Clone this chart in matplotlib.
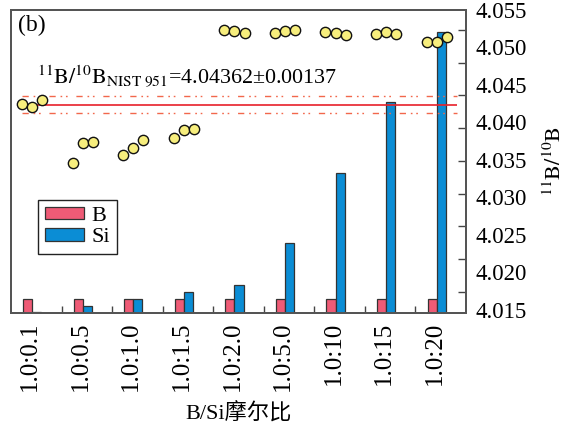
import numpy as np
import matplotlib
matplotlib.use('Agg')
import matplotlib.pyplot as plt
from matplotlib.ticker import FixedLocator

plt.rcParams['font.family'] = ['Liberation Serif', 'Noto Sans CJK SC']
plt.rcParams['mathtext.fontset'] = 'stix'

# B/Si molar ratio groups
ratios = ['1.0:0.1', '1.0:0.5', '1.0:1.0', '1.0:1.5', '1.0:2.0',
          '1.0:5.0', '1.0:10', '1.0:15', '1.0:20']
b_amount = [1.0, 1.0, 1.0, 1.0, 1.0, 1.0, 1.0, 1.0, 1.0]
si_amount = [0.1, 0.5, 1.0, 1.5, 2.0, 5.0, 10, 15, 20]

# measured 11B/10B, three replicates per group
rep1 = [4.04366, 4.03474, 4.03587, 4.03847, 4.05500, 4.05450, 4.05474, 4.05439, 4.05321]
rep2 = [4.04320, 4.03779, 4.03703, 4.03973, 4.05489, 4.05489, 4.05459, 4.05474, 4.05321]
rep3 = [4.04431, 4.03790, 4.03821, 4.03989, 4.05450, 4.05500, 4.05424, 4.05439, 4.05393]

nist_mean = 4.04362
nist_sd = 0.00137

ytick_vals = [4.055, 4.050, 4.045, 4.040, 4.035, 4.030, 4.025, 4.020, 4.015]

x = np.arange(len(ratios))
xc = x - 0.08
w = 0.18

fig = plt.figure(figsize=(5.7, 4.29), dpi=100)
ax = fig.add_axes([0.0193, 0.2704, 0.7982, 0.7063])

ax.bar(xc - w / 2, b_amount, w, color='#ef5b76', edgecolor='#333333', linewidth=0.9, label='B')
ax.bar(xc + w / 2, si_amount, w, color='#0b8dd5', edgecolor='#333333', linewidth=0.9, label='Si')
ax.set_ylim(0, 21.57)
ax.set_xlim(-0.5, len(ratios) - 0.5)
ax.set_yticks([])

ax.set_xticks(xc - 0.04)
ax.set_xticklabels(ratios, rotation=90, fontsize=18)
ax.tick_params(axis='x', which='major', length=0, pad=6)
ax.xaxis.set_minor_locator(FixedLocator(x[:-1] + 0.5))
ax.tick_params(axis='x', which='minor', direction='in', length=5, width=1, color='#444444')
ax.set_xlabel('B/Si摩尔比', fontsize=16, labelpad=9)

leg = ax.legend(loc='upper left', bbox_to_anchor=(0.06, 0.373), borderaxespad=0,
                fontsize=16, handlelength=1.75, handleheight=0.5, handletextpad=0.35,
                labelspacing=0.1, fancybox=False, framealpha=1, borderpad=0.3)
leg.get_frame().set_edgecolor('#222222')
leg.get_frame().set_linewidth(1.0)

# isotope ratio axis on the right
ax2 = ax.twinx()
ax2.set_ylim(4.01179, 4.05805)
ax2.set_xlim(-0.5, len(ratios) - 0.5)

ax2.scatter(xc - 0.2, rep1, s=55, color='#f7ee7d', edgecolor='#111111', linewidth=1.0, zorder=5)
ax2.scatter(xc, rep2, s=55, color='#f7ee7d', edgecolor='#111111', linewidth=1.0, zorder=5)
ax2.scatter(xc + 0.2, rep3, s=55, color='#f7ee7d', edgecolor='#111111', linewidth=1.0, zorder=5)

x0, x1 = -0.28, 8.33
ax2.hlines(nist_mean, x0, x1, color='#e8202a', linewidth=1.2, zorder=4)
for v in (nist_mean + nist_sd, nist_mean - nist_sd):
    ax2.hlines(v, x0, x1, color='#f2674c', linewidth=1.0,
               linestyle=(0, (4.5, 3.5, 1.2, 2.7, 1.2, 6.3)), zorder=4)

ax2.text(0.01, 4.04686,
         r'$^{11}\mathrm{B}/^{10}\mathrm{B}_{\mathrm{NIST\ 951}}$=4.04362±0.00137',
         fontsize=15.8, ha='left', va='baseline')

# tick marks at the true values, labels set slightly stretched
ax2.yaxis.set_minor_locator(FixedLocator(ytick_vals))
ax2.tick_params(axis='y', which='minor', direction='in', length=6, width=1, color='#444444')
label_pos = np.linspace(4.05805, 4.01225, len(ytick_vals))
ax2.set_yticks(label_pos)
ax2.set_yticklabels(['%.3f' % v for v in ytick_vals], fontsize=16.5)
ax2.tick_params(axis='y', which='major', length=0, pad=6.5)
ax2.set_ylabel(r'$^{11}\mathrm{B}/^{10}\mathrm{B}$', fontsize=16, rotation=90, labelpad=12)

for a in (ax, ax2):
    for s in a.spines.values():
        s.set_color('#555555')
        s.set_linewidth(1.4)

ax.text(0.015, 0.95, '(b)', transform=ax.transAxes, fontsize=17, ha='left', va='center')

fig.savefig('out.png', dpi=100)
